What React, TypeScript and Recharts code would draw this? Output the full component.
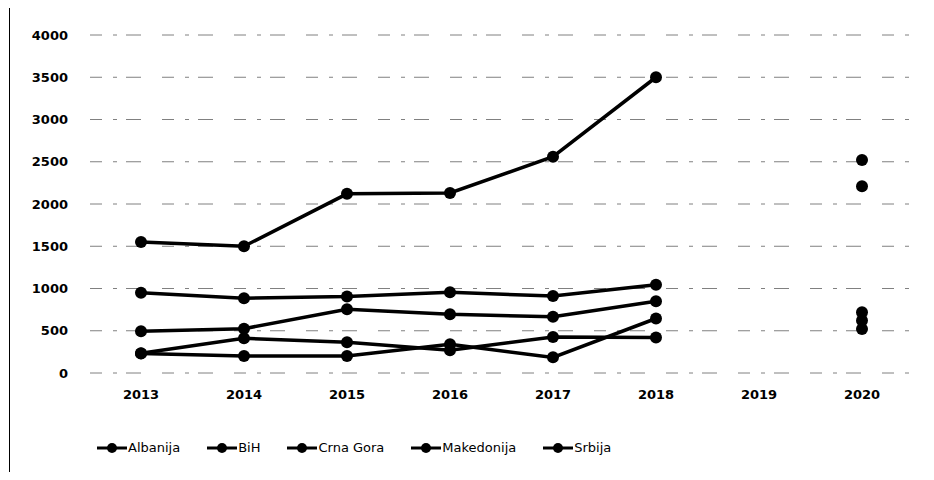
import { LineChart, Line, XAxis, YAxis, CartesianGrid } from "recharts";

const years = ["2013", "2014", "2015", "2016", "2017", "2018", "2019", "2020"];
const albanija = [950, 885, 905, 955, 910, 1045, null, 2210];
const bih = [495, 525, 755, 695, 665, 850, null, 720];
const crnaGora = [230, 200, 200, 340, 185, 645, null, 620];
const makedonija = [235, 410, 365, 270, 425, 420, null, 520];
const srbija = [1550, 1500, 2120, 2130, 2560, 3500, null, 2520];
const yTicks = [0, 500, 1000, 1500, 2000, 2500, 3000, 3500, 4000];

const seriesNames = ["Albanija", "BiH", "Crna Gora", "Makedonija", "Srbija"];
const seriesValues = [albanija, bih, crnaGora, makedonija, srbija];

const data = years.map((y, i) => {
  const row: Record<string, string | number | null> = { year: y };
  seriesNames.forEach((n, k) => {
    row[n] = seriesValues[k][i];
  });
  return row;
});

const font = "'DejaVu Sans', sans-serif";

function LegendBox() {
  return (
    <div
      style={{
        position: "absolute",
        left: 89,
        top: 432,
        display: "flex",
        gap: 27,
        fontFamily: font,
        fontSize: 13,
        color: "#000",
      }}
    >
      {seriesNames.map((n) => (
        <div key={n} style={{ display: "flex", alignItems: "center" }}>
          <svg width={30} height={12}>
            <line x1={0} y1={6} x2={30} y2={6} stroke="#000" strokeWidth={3} />
            <circle cx={15} cy={6} r={5} fill="#000" />
          </svg>
          <span style={{ marginLeft: 1 }}>{n}</span>
        </div>
      ))}
    </div>
  );
}

export default function App() {
  return (
    <div style={{ position: "relative", width: 926, height: 464 }}>
      <div
        style={{
          position: "absolute",
          left: 1,
          top: -4,
          width: 1,
          height: 476,
          background: "#000",
        }}
      />
      <LineChart
        width={926}
        height={464}
        data={data}
        margin={{ top: 27, right: 21, bottom: 69, left: 12 }}
      >
        <CartesianGrid
          horizontal
          vertical={false}
          stroke="#808080"
          strokeDasharray="12 11 4 9 15 21"
        />
        <XAxis
          dataKey="year"
          axisLine={false}
          tickLine={false}
          tickSize={0}
          tickMargin={17}
          height={30}
          padding={{ left: 51, right: 51 }}
          tick={{ fill: "#000", fontFamily: font, fontSize: 13, fontWeight: "bold" }}
        />
        <YAxis
          width={70}
          domain={[0, 4000]}
          ticks={yTicks}
          axisLine={false}
          tickLine={false}
          tickSize={0}
          tickMargin={22}
          tick={{ fill: "#000", fontFamily: font, fontSize: 13, fontWeight: "bold" }}
        />
        {seriesNames.map((n) => (
          <Line
            key={n}
            dataKey={n}
            stroke="#000"
            strokeWidth={3.5}
            dot={{ r: 6, fill: "#000", stroke: "#000", strokeWidth: 0 }}
            isAnimationActive={false}
          />
        ))}
      </LineChart>
      <LegendBox />
    </div>
  );
}
